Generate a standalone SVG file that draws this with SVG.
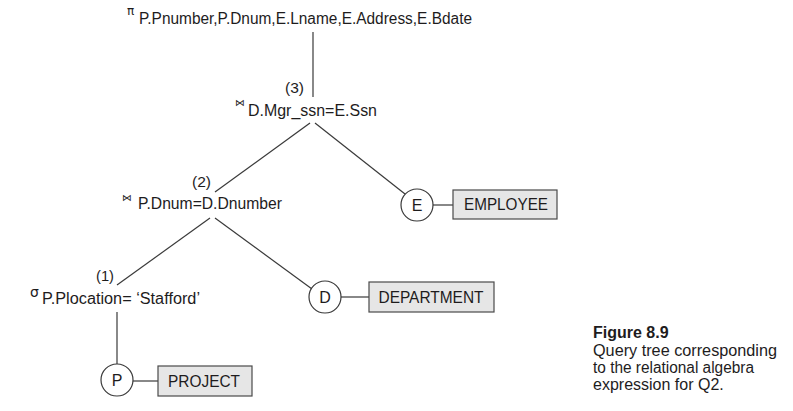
<svg xmlns="http://www.w3.org/2000/svg" width="793" height="411" viewBox="0 0 793 411">
<style>
text{font-family:"Liberation Sans",Arial,sans-serif;fill:#1e1c1d}
.lbl{font-size:16px}
.sm{font-size:15px}
.sym{font-family:"DejaVu Sans","Liberation Sans",sans-serif;font-size:9.5px}
.cap{font-size:16px}
.capb{font-size:16px;font-weight:bold}
.edge{stroke:#3a3a3a;stroke-width:1.2;fill:none}
.circ{fill:#ffffff;stroke:#3a3a3a;stroke-width:1.2}
.box{fill:#e6e6e6;stroke:#4a4a4a;stroke-width:1.2}
.mid{text-anchor:middle}
</style>
<rect width="793" height="411" fill="#ffffff"/>
<g id="connectors">
<line class="edge" x1="313" y1="32" x2="313" y2="97"/>
<line class="edge" x1="310" y1="123" x2="215" y2="192"/>
<line class="edge" x1="315" y1="123" x2="405" y2="194"/>
<line class="edge" x1="210" y1="218" x2="117" y2="285"/>
<line class="edge" x1="215" y1="218" x2="312" y2="289"/>
<line class="edge" x1="117" y1="312" x2="117" y2="364"/>
<line class="edge" x1="433" y1="205" x2="453" y2="205"/>
<line class="edge" x1="341" y1="297" x2="369" y2="297"/>
<line class="edge" x1="133" y1="381" x2="158" y2="381"/>
</g>
<g id="project-op">
<text class="sym" x="127" y="15" style="font-size:12px">π</text>
<text class="lbl" x="139" y="24" textLength="333" lengthAdjust="spacingAndGlyphs">P.Pnumber,P.Dnum,E.Lname,E.Address,E.Bdate</text>
</g>
<g id="join3">
<text class="sm" x="285" y="93" textLength="19" lengthAdjust="spacingAndGlyphs">(3)</text>
<text class="sym" x="235" y="106">⋈</text>
<text class="lbl" x="248" y="116" textLength="129" lengthAdjust="spacingAndGlyphs">D.Mgr_ssn=E.Ssn</text>
</g>
<g id="join2">
<text class="sm" x="192" y="187" textLength="19" lengthAdjust="spacingAndGlyphs">(2)</text>
<text class="sym" x="122" y="201">⋈</text>
<text class="lbl" x="138" y="209" textLength="144" lengthAdjust="spacingAndGlyphs">P.Dnum=D.Dnumber</text>
</g>
<g id="select1">
<text class="sm" x="96" y="281" textLength="18" lengthAdjust="spacingAndGlyphs">(1)</text>
<text class="sym" x="30" y="297" style="font-size:14px">σ</text>
<text class="lbl" x="42" y="304" textLength="158" lengthAdjust="spacingAndGlyphs">P.Plocation= ‘Stafford’</text>
</g>
<g id="node-E">
<circle class="circ" cx="417" cy="205" r="16"/>
<text class="lbl mid" x="417" y="211">E</text>
</g>
<g id="rel-EMPLOYEE">
<rect class="box" x="453" y="190" width="104" height="29"/>
<text class="lbl mid" x="506" y="210" textLength="84" lengthAdjust="spacingAndGlyphs">EMPLOYEE</text>
</g>
<g id="node-D">
<circle class="circ" cx="325" cy="297" r="16"/>
<text class="lbl mid" x="325" y="303">D</text>
</g>
<g id="rel-DEPARTMENT">
<rect class="box" x="369" y="282" width="125" height="30"/>
<text class="lbl mid" x="431" y="303" textLength="105" lengthAdjust="spacingAndGlyphs">DEPARTMENT</text>
</g>
<g id="node-P">
<circle class="circ" cx="117" cy="380" r="16"/>
<text class="lbl mid" x="117" y="386">P</text>
</g>
<g id="rel-PROJECT">
<rect class="box" x="158" y="366" width="94" height="30"/>
<text class="lbl mid" x="204" y="387" textLength="72" lengthAdjust="spacingAndGlyphs">PROJECT</text>
</g>
<g id="caption">
<text class="capb" x="593" y="338">Figure 8.9</text>
<text class="cap" x="593" y="356" textLength="184" lengthAdjust="spacingAndGlyphs">Query tree corresponding</text>
<text class="cap" x="593" y="373" textLength="161" lengthAdjust="spacingAndGlyphs">to the relational algebra</text>
<text class="cap" x="593" y="390">expression for Q2.</text>
</g>
</svg>
